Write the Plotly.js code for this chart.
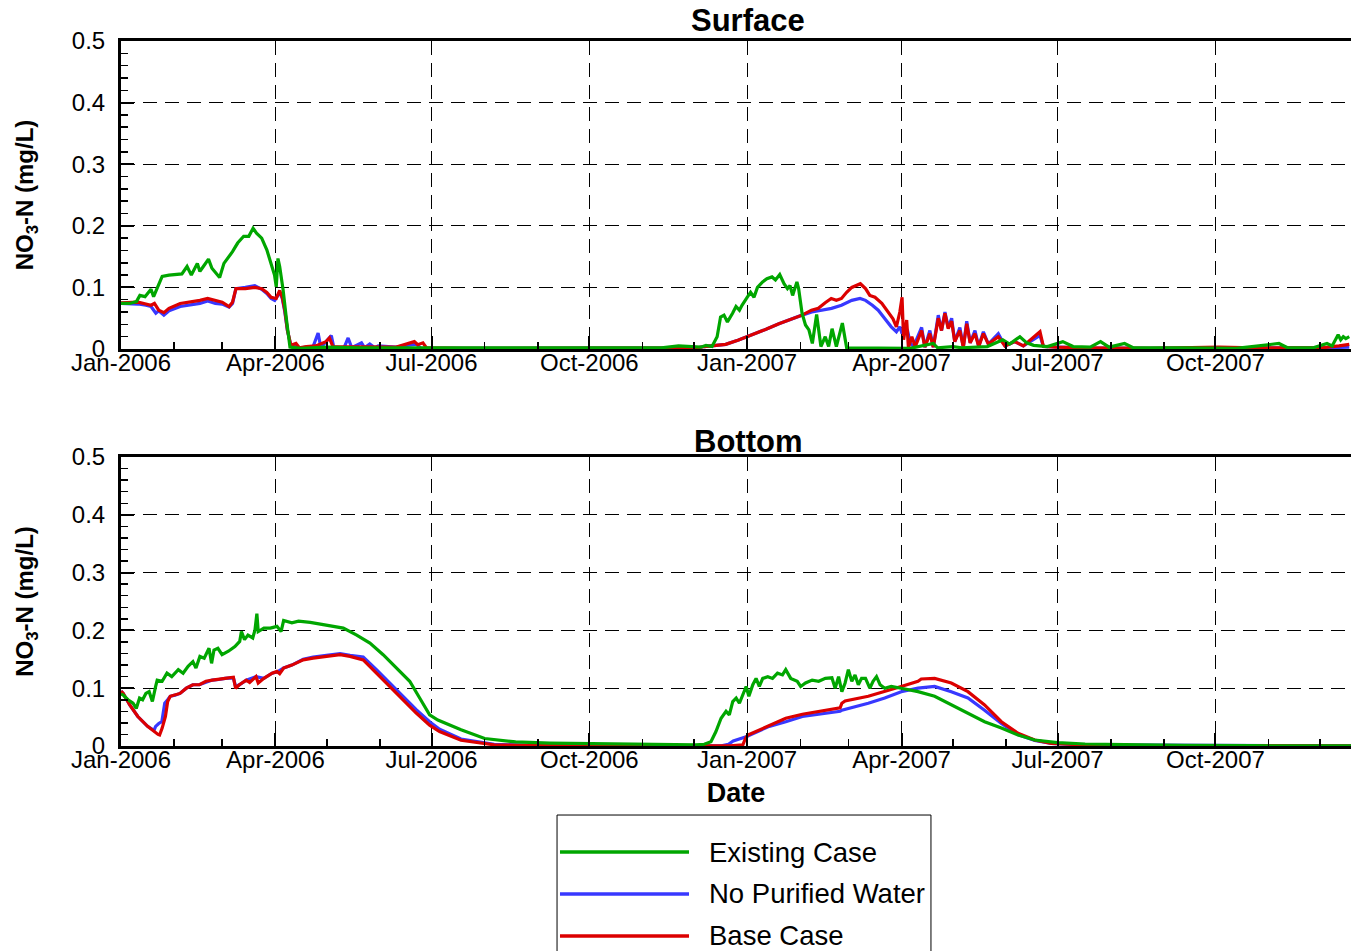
<!DOCTYPE html>
<html>
<head>
<meta charset="utf-8">
<script src="https://cdn.plot.ly/plotly-3.0.1.min.js"></script>
<style>html,body{margin:0;padding:0;background:#fff;}#chart{width:1351px;height:951px;}</style>
</head>
<body>
<div id="chart"></div>
<script>
// ---------- DATA (x = days since 2006-01-01, y = NO3-N mg/L) ----------
var seriesNames = ['Existing Case', 'No Purified Water', 'Base Case'];
var panelTitles = ['Surface', 'Bottom'];
var yTitle = 'NO<sub>3</sub>-N (mg/L)';
var xTitle = 'Date';

// Surface - Existing Case
var surfExistingDays = [0, 5, 9, 11, 14, 17.5, 19, 20.5, 24, 28,
  35.5, 38.5, 41, 44.5, 46, 48, 51, 53, 57.5, 60,
  63, 65, 68, 71.5, 74.5, 77, 79, 82, 85, 87.5,
  89.5, 90.5, 91.5, 92.5, 94.5, 96.5, 98.5, 105, 120, 140,
  160, 180, 200, 230, 260, 290, 315, 325, 338, 341,
  344.5, 347.5, 349.5, 351.5, 353.5, 356.5, 358.5, 360.5, 362, 365,
  367, 369, 371, 374, 376.5, 379.5, 381.5, 384, 386.5, 388.5,
  390, 391.5, 394, 395, 397, 399, 401, 403, 405.5, 408,
  410.5, 412.5, 414.5, 417, 420.5, 423, 440, 460, 473.5, 476,
  485, 490, 505, 514, 518, 524, 528, 532, 540, 549,
  555, 565, 571, 576, 585, 590, 620, 650, 675, 680,
  695, 703, 706, 709.5, 711, 712.5, 714, 716];
var surfExistingVals = [0.074, 0.074, 0.077, 0.087, 0.085, 0.097, 0.085, 0.096, 0.118, 0.12,
  0.122, 0.134, 0.12, 0.139, 0.126, 0.134, 0.146, 0.131, 0.116, 0.139,
  0.15, 0.158, 0.172, 0.183, 0.183, 0.196, 0.188, 0.18, 0.161, 0.139,
  0.12, 0.101, 0.147, 0.134, 0.096, 0.047, 0.003, 0.001, 0.003, 0.002,
  0.002, 0.003, 0.002, 0.003, 0.002, 0.003, 0.002, 0.005, 0.003, 0.006,
  0.004, 0.02, 0.052, 0.055, 0.044, 0.058, 0.069, 0.063, 0.071, 0.084,
  0.092, 0.084, 0.1, 0.109, 0.114, 0.117, 0.112, 0.121, 0.106, 0.098,
  0.103, 0.087, 0.109, 0.098, 0.058, 0.039, 0.031, 0.009, 0.056, 0.004,
  0.02, 0.004, 0.033, 0.004, 0.042, 0.002, 0.001, 0.001, 0.009, 0.002,
  0.004, 0.002, 0.004, 0.015, 0.008, 0.02, 0.01, 0.006, 0.004, 0.012,
  0.004, 0.003, 0.012, 0.003, 0.009, 0.002, 0.002, 0.001, 0.009, 0.002,
  0.002, 0.009, 0.005, 0.023, 0.015, 0.02, 0.017, 0.02];

// Surface - No Purified Water
var surfNoPurDays = [0, 5, 10, 14.5, 17.5, 20.3, 22, 25, 28, 34.5,
  40, 46, 50.5, 55, 59, 63, 65, 67, 72.5, 78,
  82, 85, 87.5, 89.6, 92.5, 94, 95.5, 97, 99, 104,
  112, 114.9, 116.5, 122.6, 124, 130, 132.4, 134.5, 140.2, 142,
  145, 148, 150, 160, 172, 175, 200, 250, 300, 336,
  340, 345.5, 352.5, 360, 368, 376, 383.5, 391, 397, 402.7,
  408, 414.2, 420, 426, 430.8, 434, 438, 441.4, 445.3, 449,
  452, 454, 455.3, 457, 458.5, 460, 462, 466.7, 468.6, 471.5,
  473.5, 476.4, 478.3, 480.3, 482.2, 484.2, 486, 489, 491, 493,
  495, 497.8, 500, 502.7, 505.6, 511.4, 515.3, 521, 526, 535.7,
  537.7, 545, 560, 600, 640, 700, 716];
var surfNoPurVals = [0.074, 0.074, 0.073, 0.071, 0.069, 0.058, 0.062, 0.055, 0.062, 0.069,
  0.071, 0.074, 0.078, 0.074, 0.073, 0.068, 0.074, 0.098, 0.1, 0.103,
  0.097, 0.09, 0.082, 0.079, 0.092, 0.082, 0.06, 0.03, 0.006, 0.002,
  0.004, 0.026, 0.002, 0.022, 0.003, 0.002, 0.018, 0.002, 0.01, 0.002,
  0.008, 0.002, 0.005, 0.003, 0.008, 0.001, 0.001, 0.001, 0.001, 0.002,
  0.004, 0.005, 0.0075, 0.0145, 0.0226, 0.032, 0.041, 0.049, 0.055, 0.06,
  0.063, 0.066, 0.071, 0.079, 0.082, 0.079, 0.071, 0.063, 0.049, 0.036,
  0.028, 0.036, 0.025, 0.036, 0.03, 0.01, 0.004, 0.035, 0.003, 0.03,
  0.003, 0.055, 0.03, 0.06, 0.035, 0.05, 0.012, 0.035, 0.003, 0.045,
  0.01, 0.03, 0.004, 0.028, 0.008, 0.025, 0.005, 0.012, 0.005, 0.022,
  0.004, 0.003, 0.002, 0.001, 0.002, 0.002, 0.003];

// Surface - Base Case
var surfBaseDays = [0, 5, 10, 14.5, 17.5, 19.5, 22, 25, 28, 34.5,
  40, 46, 50.5, 55, 59, 63, 65, 67, 72.5, 78,
  82, 85, 87.5, 90.5, 92.5, 94, 95.5, 97, 99, 102,
  104, 108, 113.5, 119.5, 121.5, 123.5, 129.5, 141, 160, 171,
  173, 176, 178, 200, 250, 300, 336, 340, 345.5, 352.5,
  360, 368, 376, 383.5, 391, 397, 402.5, 406.5, 410.5, 414,
  417, 420, 423, 426, 431, 434, 436.5, 439.5, 443.5, 447,
  450, 452, 454, 455.3, 456.2, 458, 459, 461, 463, 466.7,
  468.6, 471.5, 473.5, 476.4, 478.3, 480.3, 482.2, 484.2, 486, 489,
  491, 493, 495, 497.8, 500, 502.7, 505.6, 511.4, 515.3, 521,
  526, 535.7, 537.7, 545, 560, 600, 640, 660, 700, 710,
  716];
var surfBaseVals = [0.075, 0.076, 0.076, 0.073, 0.071, 0.074, 0.063, 0.059, 0.066, 0.074,
  0.076, 0.079, 0.082, 0.079, 0.076, 0.069, 0.076, 0.098, 0.098, 0.1,
  0.098, 0.092, 0.084, 0.082, 0.095, 0.084, 0.063, 0.031, 0.006, 0.009,
  0.002, 0.004, 0.005, 0.012, 0.018, 0.004, 0.004, 0.003, 0.003, 0.012,
  0.007, 0.01, 0.002, 0.001, 0.001, 0.001, 0.002, 0.004, 0.005, 0.0075,
  0.0145, 0.0226, 0.032, 0.041, 0.049, 0.055, 0.063, 0.066, 0.075, 0.082,
  0.079, 0.082, 0.092, 0.1, 0.106, 0.098, 0.087, 0.084, 0.074, 0.06,
  0.049, 0.036, 0.06, 0.084, 0.015, 0.047, 0.002, 0.02, 0.004, 0.03,
  0.003, 0.025, 0.003, 0.05, 0.03, 0.058, 0.033, 0.045, 0.012, 0.03,
  0.003, 0.041, 0.01, 0.025, 0.004, 0.025, 0.008, 0.02, 0.005, 0.012,
  0.005, 0.028, 0.004, 0.003, 0.002, 0.001, 0.003, 0.002, 0.002, 0.005,
  0.0075];

// Bottom - Existing Case
var botExistingDays = [0, 1.3, 4.1, 7, 8.9, 10.8, 12.6, 14.5, 16.4, 18.3,
  20.2, 21.1, 24, 26.8, 29.6, 33.4, 36.2, 39.1, 41.9, 43.7,
  46, 48.5, 51.3, 52.8, 54.2, 56.5, 58.9, 62.6, 66.4, 69.2,
  70.2, 72, 74, 76.8, 78.1, 79.2, 80, 83.3, 87.1, 90.9,
  93.3, 94.8, 99.6, 103.5, 110.3, 118, 125.8, 129.6, 137.4, 145.1,
  152.8, 160.6, 168.3, 174.1, 179.9, 184.7, 198.2, 212, 230, 250,
  275, 300, 320, 335, 340, 343.9, 346.8, 349.8, 352.7, 354.6,
  356.6, 358.6, 360.5, 362.8, 364.4, 366, 368.3, 370.2, 372.1, 374.1,
  377, 379.8, 382.7, 385.6, 387.5, 390.4, 394.2, 396.2, 399, 402.9,
  406.7, 410.6, 414.4, 416.3, 418.3, 420.2, 422.1, 424, 426, 427.9,
  429.8, 431.7, 434, 436.5, 438.4, 440.4, 442.5, 445.2, 449, 454.8,
  464.6, 474.3, 484, 493.7, 503.4, 513.2, 522.9, 532.6, 546, 562,
  590, 620, 660, 717];
var botExistingVals = [0.09, 0.088, 0.08, 0.074, 0.065, 0.083, 0.08, 0.091, 0.094, 0.077,
  0.103, 0.114, 0.112, 0.126, 0.12, 0.132, 0.126, 0.138, 0.146, 0.135,
  0.155, 0.152, 0.169, 0.143, 0.166, 0.169, 0.158, 0.164, 0.172, 0.181,
  0.198, 0.184, 0.192, 0.187, 0.201, 0.229, 0.198, 0.204, 0.204, 0.207,
  0.198, 0.217, 0.213, 0.216, 0.214, 0.21, 0.207, 0.204, 0.192, 0.178,
  0.158, 0.135, 0.112, 0.083, 0.054, 0.045, 0.028, 0.013, 0.007, 0.005,
  0.004, 0.003, 0.002, 0.002, 0.003, 0.0075, 0.025, 0.048, 0.06, 0.054,
  0.077, 0.083, 0.074, 0.091, 0.103, 0.086, 0.106, 0.117, 0.103, 0.117,
  0.12, 0.117, 0.126, 0.123, 0.132, 0.117, 0.112, 0.103, 0.109, 0.114,
  0.112, 0.117, 0.118, 0.1, 0.12, 0.094, 0.109, 0.132, 0.112, 0.123,
  0.106, 0.117, 0.117, 0.1, 0.112, 0.12, 0.106, 0.1, 0.103, 0.1,
  0.094, 0.086, 0.071, 0.057, 0.042, 0.031, 0.019, 0.0104, 0.006, 0.0035,
  0.002, 0.001, 0.0005, 0.0003];

// Bottom - No Purified Water
var botNoPurDays = [0, 1.3, 5.1, 9.8, 15.5, 19.2, 20.2, 22, 23.8, 25.5,
  27.2, 28.7, 31.5, 34.4, 38.1, 41.9, 45.7, 49.5, 53.2, 57,
  60.7, 65.5, 66.8, 69, 73, 78.7, 83.3, 88.1, 90.9, 94.8,
  99.6, 106.2, 112, 119.8, 127.7, 133.5, 141.2, 148.9, 156.7, 164.4,
  172.1, 179.9, 185.7, 198.2, 217.5, 240, 300, 350, 354.1, 356.9,
  364.4, 377.9, 387.5, 397.2, 406.7, 419.2, 420.2, 435.6, 445.2, 454.8,
  464.6, 474.3, 484, 493.7, 503.4, 513.2, 522.9, 532.6, 542.3, 560,
  717];
var botNoPurVals = [0.095, 0.091, 0.071, 0.051, 0.034, 0.027, 0.034, 0.039, 0.042, 0.074,
  0.08, 0.086, 0.088, 0.091, 0.1, 0.106, 0.106, 0.11, 0.114, 0.115,
  0.117, 0.118, 0.103, 0.106, 0.114, 0.12, 0.117, 0.126, 0.128, 0.135,
  0.14, 0.15, 0.154, 0.157, 0.16, 0.157, 0.154, 0.132, 0.109, 0.086,
  0.063, 0.042, 0.029, 0.012, 0.003, 0.001, 0.0003, 0.0002, 0.003, 0.0087,
  0.016, 0.034, 0.042, 0.051, 0.055, 0.06, 0.062, 0.074, 0.083, 0.094,
  0.1, 0.103, 0.094, 0.083, 0.062, 0.039, 0.02, 0.0098, 0.0046, 0.002,
  0.0003];

// Bottom - Base Case
var botBaseDays = [0, 1.3, 5.1, 9.8, 15.5, 19.2, 21.6, 22.5, 24, 25.9,
  27.2, 28.7, 31.5, 34.4, 38.1, 41.9, 45.7, 49.5, 53.2, 57,
  60.7, 65.5, 66.8, 69, 73, 75, 78.7, 80, 83.3, 88.1,
  90.9, 92.5, 94.8, 99.6, 106.2, 112, 119.8, 127.7, 133.5, 141.2,
  148.9, 156.7, 164.4, 172.1, 179.9, 185.7, 198.2, 217.5, 240, 300,
  355, 362.5, 364, 365.4, 377.9, 387.5, 397.2, 406.7, 419.2, 420.2,
  422.1, 435.6, 445.2, 454.8, 464.6, 466.5, 474.3, 484, 493.7, 503.4,
  513.2, 522.9, 532.6, 542.3, 552, 580, 717];
var botBaseVals = [0.095, 0.091, 0.071, 0.051, 0.034, 0.025, 0.02, 0.019, 0.031, 0.051,
  0.077, 0.086, 0.088, 0.091, 0.1, 0.106, 0.106, 0.112, 0.114, 0.116,
  0.117, 0.119, 0.1, 0.106, 0.114, 0.11, 0.12, 0.109, 0.117, 0.126,
  0.129, 0.125, 0.135, 0.14, 0.149, 0.152, 0.155, 0.158, 0.155, 0.149,
  0.126, 0.103, 0.08, 0.057, 0.036, 0.025, 0.01, 0.002, 0.0005, 0.0002,
  0.0002, 0.002, 0.013, 0.019, 0.036, 0.048, 0.055, 0.06, 0.066, 0.074,
  0.078, 0.086, 0.094, 0.103, 0.112, 0.116, 0.117, 0.109, 0.094, 0.071,
  0.042, 0.022, 0.0104, 0.0046, 0.003, 0.001, 0.0003];

var seriesColors = ['#00a600', '#3838ff', '#dc0000'];

// ---------- BUILD ----------
function toDates(days) {
  var t0 = Date.UTC(2006, 0, 1);
  return days.map(function (d) {
    return new Date(t0 + d * 86400000).toISOString().slice(0, 19).replace('T', ' ');
  });
}
function tr(days, vals, idx, xa, ya) {
  return {
    type: 'scatter', mode: 'lines', name: seriesNames[idx],
    x: toDates(days), y: vals, xaxis: xa, yaxis: ya,
    line: {color: seriesColors[idx], width: 3.2}, showlegend: false
  };
}
// draw order: No Purified, Base, Existing (on top)
var data = [
  tr(surfNoPurDays, surfNoPurVals, 1, 'x', 'y'),
  tr(surfBaseDays, surfBaseVals, 2, 'x', 'y'),
  tr(surfExistingDays, surfExistingVals, 0, 'x', 'y'),
  tr(botNoPurDays, botNoPurVals, 1, 'x2', 'y2'),
  tr(botBaseDays, botBaseVals, 2, 'x2', 'y2'),
  tr(botExistingDays, botExistingVals, 0, 'x2', 'y2')
];

var FONT = 'Arial, "Liberation Sans", Helvetica, sans-serif';
function xax(anchor, withTitle) {
  var a = {
    type: 'date', anchor: anchor, domain: [0, 1],
    range: ['2006-01-01', '2007-12-19'],
    tick0: '2006-01-01', dtick: 'M3', tickformat: '%b-%Y',
    ticks: 'inside', ticklen: 13, tickwidth: 2, tickcolor: 'black',
    tickfont: {size: 24, family: FONT, color: 'black'}, ticklabelstandoff: -10,
    showline: true, linewidth: 3, linecolor: 'black', mirror: true,
    showgrid: true, gridcolor: 'black', gridwidth: 1, griddash: '14px,8px',
    zeroline: false,
    minor: {dtick: 'M1', ticks: 'inside', ticklen: 7, tickwidth: 1.5, tickcolor: 'black', showgrid: false}
  };
  if (withTitle) a.title = {text: '<b>' + xTitle + '</b>', font: {size: 27, family: FONT, color: 'black'}, standoff: 12};
  return a;
}
function yax(anchor, domain) {
  return {
    anchor: anchor, domain: domain, range: [0, 0.5], dtick: 0.1, tick0: 0,
    ticks: 'inside', ticklen: 13, tickwidth: 2, tickcolor: 'black',
    tickfont: {size: 24, family: FONT, color: 'black'}, ticklabelstandoff: 8,
    showline: true, linewidth: 3, linecolor: 'black', mirror: false,
    showgrid: true, gridcolor: 'black', gridwidth: 1, griddash: '14px,8px',
    zeroline: false,
    minor: {dtick: 0.02, ticks: 'inside', ticklen: 7, tickwidth: 1.5, tickcolor: 'black', showgrid: false},
    title: {text: '<b>' + yTitle + '</b>', font: {size: 24, family: FONT, color: 'black'}, standoff: 32}
  };
}

// manual legend (long line samples like the reference)
var legY = [-0.1504, -0.2099, -0.2695];
var legendOrder = [0, 1, 2];
var shapes = [{
  type: 'rect', xref: 'paper', yref: 'paper', x0: 0.3545, x1: 0.6585, y0: -0.32, y1: -0.0979,
  line: {color: 'black', width: 1}, fillcolor: 'white', layer: 'above'
}];
var annotations = [
  {text: '<b>' + panelTitles[0] + '</b>', xref: 'paper', yref: 'paper', x: 0.5098, y: 1.0284,
   showarrow: false, xanchor: 'center', yanchor: 'middle', font: {size: 31, family: FONT, color: 'black'}},
  {text: '<b>' + panelTitles[1] + '</b>', xref: 'paper', yref: 'paper', x: 0.5098, y: 0.4326,
   showarrow: false, xanchor: 'center', yanchor: 'middle', font: {size: 31, family: FONT, color: 'black'}}
];
legendOrder.forEach(function (k, i) {
  shapes.push({type: 'line', xref: 'paper', yref: 'paper', x0: 0.3569, x1: 0.4618, y0: legY[i], y1: legY[i],
    line: {color: seriesColors[k], width: 3.5}, layer: 'above'});
  annotations.push({text: seriesNames[k], xref: 'paper', yref: 'paper', x: 0.4765, y: legY[i],
    showarrow: false, xanchor: 'left', yanchor: 'middle', font: {size: 27.5, family: FONT, color: 'black'}});
});

var layout = {
  width: 1351, height: 951,
  margin: {l: 121, r: 0, t: 41, b: 205, pad: 0},
  paper_bgcolor: 'white', plot_bgcolor: 'white',
  font: {family: FONT, color: 'black', size: 24},
  showlegend: false,
  xaxis: xax('y', false),
  yaxis: yax('x', [0.5631, 1]),
  xaxis2: xax('y2', true),
  yaxis2: yax('x2', [0, 0.4099]),
  shapes: shapes,
  annotations: annotations
};

Plotly.newPlot('chart', data, layout, {displayModeBar: false, staticPlot: true});
</script>
</body>
</html>
